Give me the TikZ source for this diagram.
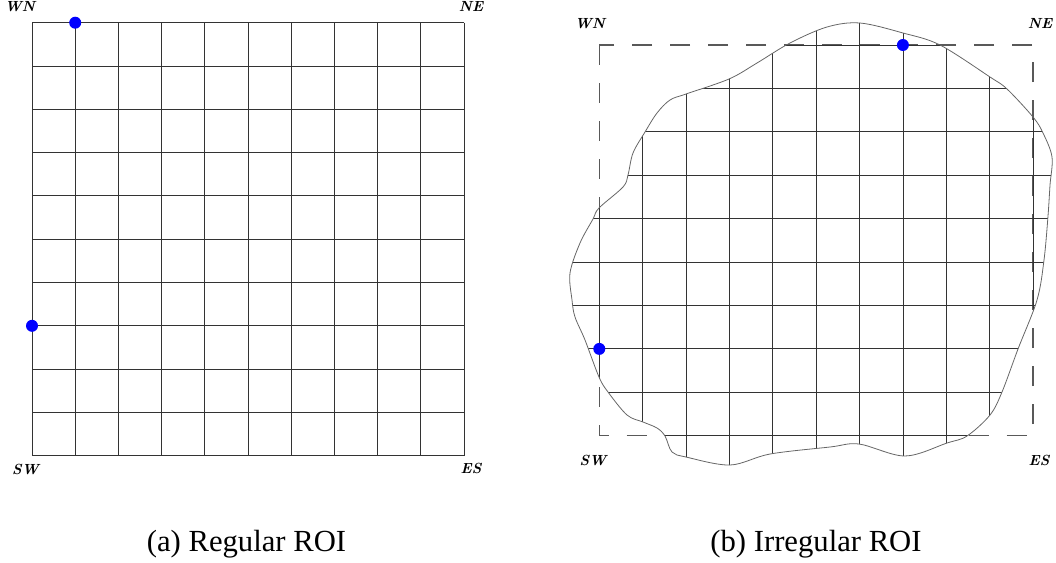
\documentclass[tikz,border=0pt]{standalone}
\usepackage{fontspec}
\newfontfamily\capfont{Liberation Serif}
\tikzset{
  gridline/.style={black!80, line width=0.7pt},
  roiedge/.style={black!60, line width=0.6pt},
  boxline/.style={black!65, line width=0.8pt, dash pattern=on 15pt off 13.5pt},
  corner/.style={font=\fontsize{11}{13}\selectfont\bfseries\itshape, anchor=base, inner sep=0pt},
  caption/.style={font=\capfont\fontsize{23}{27}\selectfont, anchor=base, inner sep=0pt}
}
\def\roiblob{plot[smooth cycle, tension=0.55] coordinates {
  (860,23) (903,33) (940,45) (990,77) (1007,89) (1033,117) (1043,133)
  (1052,157) (1050,185) (1048,216) (1044,260) (1037,300) (1018,349)
  (1002,392) (990,415) (967,436) (947,443) (905,456) (859,444) (830,447)
  (770,454) (730,465) (686,457) (672,452) (665,436) (657,428) (643,422)
  (627,415) (608,392) (599,377) (585,340) (575,317) (572,300) (570,273)
  (580,243) (593,219) (599,208) (623,187) (628,175) (633,153) (645,132)
  (657,113) (670,100) (686,94) (729,79) (757,63) (790,43) (827,27)}}
\begin{document}
\begin{tikzpicture}[x=0.75pt, y=-0.75pt]
  \useasboundingbox (0,0) rectangle (1056,562);
  % Regular ROI
  \foreach \i in {0,...,10} {
    \draw[gridline] (32+43.2*\i,22.7) -- (32+43.2*\i,455.7);
    \draw[gridline] (32,22.7+43.3*\i) -- (464,22.7+43.3*\i);
  }
  \fill[blue] (75.2,22.7) circle (4.5pt);
  \fill[blue] (32,325.8) circle (4.5pt);
  \node[corner] (wnA) at (20,11.7) {WN};
  \node[corner] (neA) at (471,11.7) {NE};
  \node[corner] (swA) at (25.5,474.5) {SW};
  \node[corner] (esA) at (471,473.5) {ES};
  \node[caption] (capA) at (246.5,551.7) {(a) Regular ROI};
  % Irregular ROI
  \draw[boxline] (599.3,45) rectangle (1033,435.7);
  \begin{scope}
    \clip \roiblob;
    \foreach \i in {-1,...,11}
      \draw[gridline] (599.3+43.4*\i,0) -- (599.3+43.4*\i,490);
    \foreach \j in {-1,...,10}
      \draw[gridline] (540,435.7-43.4*\j) -- (1060,435.7-43.4*\j);
  \end{scope}
  \draw[roiedge] \roiblob;
  \fill[blue] (902.9,45) circle (4.5pt);
  \fill[blue] (599.3,348.9) circle (4.5pt);
  \node[corner] (wnB) at (590,28) {WN};
  \node[corner] (neB) at (1040,28) {NE};
  \node[corner] (swB) at (593,465.7) {SW};
  \node[corner] (esB) at (1039,465.7) {ES};
  \node[caption] (capB) at (816,551.7) {(b) Irregular ROI};
\end{tikzpicture}
\end{document}
